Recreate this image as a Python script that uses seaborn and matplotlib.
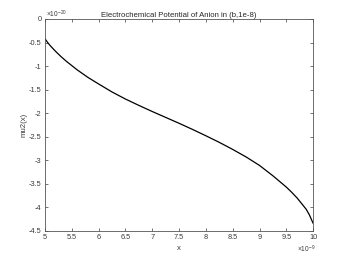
import numpy as np
import pandas as pd
import matplotlib
matplotlib.use('Agg')
import matplotlib.pyplot as plt
import seaborn as sns
from matplotlib.ticker import FuncFormatter, MultipleLocator

# values (x in units of 1e-9, mu2 in units of 1e-20)
x_vals = [5.0, 5.05, 5.1, 5.2, 5.3, 5.4, 5.5, 5.6, 5.7, 5.8, 5.9, 6.0,
          6.25, 6.5, 6.75, 7.0, 7.25, 7.5, 7.75, 8.0, 8.25, 8.5, 8.75,
          9.0, 9.25, 9.5, 9.6, 9.7, 9.8, 9.87, 9.93, 10.0]
mu2_vals = [-0.42, -0.50, -0.57, -0.69, -0.80, -0.90, -0.99, -1.08, -1.16, -1.24, -1.31, -1.38,
            -1.55, -1.70, -1.835, -1.965, -2.09, -2.215, -2.345, -2.48, -2.62, -2.77, -2.93,
            -3.11, -3.33, -3.57, -3.68, -3.80, -3.94, -4.04, -4.16, -4.34]

df = pd.DataFrame({'x': x_vals, 'mu2': mu2_vals})

sns.set_style('ticks')
plt.rcParams['font.family'] = ['Liberation Sans', 'DejaVu Sans']
plt.rcParams['mathtext.fontset'] = 'custom'
plt.rcParams['mathtext.rm'] = 'Liberation Sans'

grey = '#3a3a3a'
fig = plt.figure(figsize=(3.46, 2.60), dpi=100)
ax = fig.add_axes([0.13, 0.112, 0.775, 0.815])

sns.lineplot(data=df, x='x', y='mu2', color='black', linewidth=0.9, ax=ax)

ax.set_xlim(5, 10)
ax.set_ylim(-4.5, 0)
ax.xaxis.set_major_locator(MultipleLocator(0.5))
ax.yaxis.set_major_locator(MultipleLocator(0.5))
fmt = FuncFormatter(lambda v, p: '%g' % v)
ax.xaxis.set_major_formatter(fmt)
ax.yaxis.set_major_formatter(fmt)

for s in ax.spines.values():
    s.set_color('#555555')
    s.set_linewidth(0.6)
ax.tick_params(direction='in', length=2.5, width=0.5, colors=grey,
               labelsize=5.3, pad=2.5, top=True, right=True)

ax.set_xlabel('x', fontsize=5.6, color=grey, labelpad=2.5)
ax.set_ylabel('mu2(x)', fontsize=5.6, color=grey, labelpad=1)
ax.set_title('Electrochemical Potential of Anion in (b,1e-8)', fontsize=5.6, pad=1.5)

ax.text(0.003, 1.02, r'$\times10^{-20}$', transform=ax.transAxes,
        fontsize=4.8, color=grey, ha='left', va='center')
ax.text(0.974, -0.088, r'$\times10^{-9}$', transform=ax.transAxes,
        fontsize=4.8, color=grey, ha='center', va='center')

fig.savefig('out.png', dpi=100)
